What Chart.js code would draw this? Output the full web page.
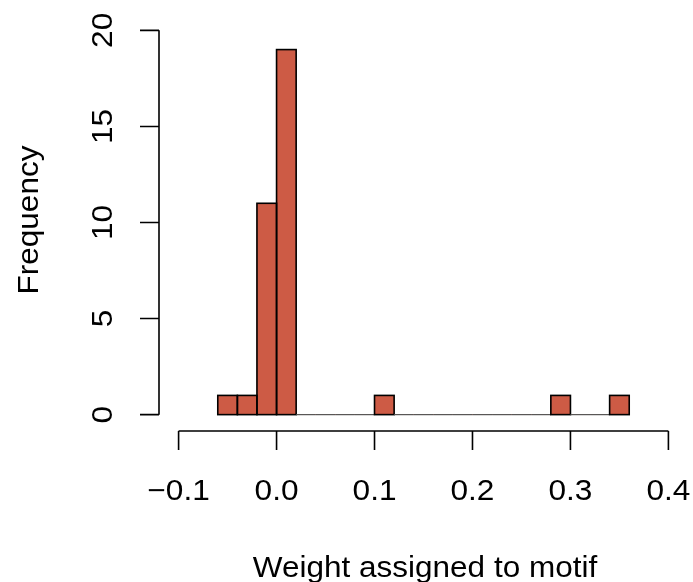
<!DOCTYPE html>
<html>
<head>
<meta charset="utf-8">
<script src="https://cdn.jsdelivr.net/npm/chart.js@4.4.1/dist/chart.umd.min.js"></script>
<style>
  html, body { margin: 0; padding: 0; background: #fff; }
  #wrap { width: 693px; height: 582px; }
</style>
</head>
<body>
<div id="wrap"><canvas id="hist" width="693" height="582"></canvas></div>
<script>
// histogram bins (edges) and counts
const breaks = [-0.06, -0.04, -0.02, 0.00, 0.02, 0.04, 0.06, 0.08, 0.10, 0.12, 0.14,
                0.16, 0.18, 0.20, 0.22, 0.24, 0.26, 0.28, 0.30, 0.32, 0.34, 0.36];
const counts = [1, 1, 11, 19, 0, 0, 0, 0, 1, 0, 0, 0, 0, 0, 0, 0, 0, 1, 0, 0, 1];
const xTicks = [-0.1, 0.0, 0.1, 0.2, 0.3, 0.4];
const xTickLabels = ['\u22120.1', '0.0', '0.1', '0.2', '0.3', '0.4'];
const yTicks = [0, 5, 10, 15, 20];
const xTitle = 'Weight assigned to motif';
const yTitle = 'Frequency';

const FONT = '"Liberation Sans", Arial, Helvetica, sans-serif';

// text helper, stretch is applied along the text direction
function drawText(ctx, text, x, y, rot, size, stretch) {
  ctx.save();
  ctx.translate(x, y);
  ctx.rotate(rot);
  ctx.scale(stretch, 1);
  ctx.font = size + 'px ' + FONT;
  ctx.fillStyle = '#000';
  ctx.textAlign = 'center';
  ctx.textBaseline = 'alphabetic';
  ctx.fillText(text, 0, 0);
  ctx.restore();
}

// outline each bin like R's rect(), zero bins become a flat line
const histOutline = {
  id: 'histOutline',
  afterDatasetsDraw(chart) {
    const ctx = chart.ctx;
    const meta = chart.getDatasetMeta(0);
    ctx.save();
    meta.data.forEach((bar, i) => {
      const left = bar.x - bar.width / 2;
      if (counts[i] === 0) {
        ctx.strokeStyle = '#555';
        ctx.lineWidth = 1.2;
        ctx.beginPath();
        ctx.moveTo(left, bar.base);
        ctx.lineTo(left + bar.width, bar.base);
        ctx.stroke();
      } else {
        ctx.strokeStyle = '#000';
        ctx.lineWidth = 1.6;
        ctx.strokeRect(left, bar.y, bar.width, bar.base - bar.y);
      }
    });
    ctx.restore();
  }
};

// R style detached axes
const rAxes = {
  id: 'rAxes',
  afterDraw(chart) {
    const ctx = chart.ctx;
    const xs = chart.scales.x, ys = chart.scales.y;
    const area = chart.chartArea;
    const tick = 19;
    ctx.save();
    ctx.strokeStyle = '#000';
    ctx.lineWidth = 1.6;

    // y axis
    const ax = area.left;
    ctx.beginPath();
    ctx.moveTo(ax, ys.getPixelForValue(yTicks[0]));
    ctx.lineTo(ax, ys.getPixelForValue(yTicks[yTicks.length - 1]));
    yTicks.forEach(v => {
      const py = ys.getPixelForValue(v);
      ctx.moveTo(ax, py);
      ctx.lineTo(ax - tick, py);
    });
    ctx.stroke();
    yTicks.forEach(v => {
      drawText(ctx, String(v), ax - 47, ys.getPixelForValue(v), -Math.PI / 2, 29, 1.09);
    });

    // x axis
    const ay = area.bottom + 1;
    ctx.beginPath();
    ctx.moveTo(xs.getPixelForValue(xTicks[0]), ay);
    ctx.lineTo(xs.getPixelForValue(xTicks[xTicks.length - 1]), ay);
    xTicks.forEach(v => {
      const px = xs.getPixelForValue(v);
      ctx.moveTo(px, ay);
      ctx.lineTo(px, ay + tick);
    });
    ctx.stroke();
    xTicks.forEach((v, i) => {
      drawText(ctx, xTickLabels[i], xs.getPixelForValue(v), ay + 69, 0, 29, 1.09);
    });

    // axis titles
    drawText(ctx, xTitle, 425, 577, 0, 30, 1.05);
    drawText(ctx, yTitle, 38, 220, -Math.PI / 2, 30, 1.05);
    ctx.restore();
  }
};

const binData = counts.map((c, i) => ({ x: (breaks[i] + breaks[i + 1]) / 2, y: c }));

new Chart(document.getElementById('hist'), {
  type: 'bar',
  data: {
    datasets: [{
      data: binData,
      backgroundColor: '#CD5B45',
      borderWidth: 0,
      barPercentage: 1,
      categoryPercentage: 1
    }]
  },
  options: {
    responsive: false,
    animation: false,
    layout: { padding: { left: 159, right: 5, top: 15, bottom: 152 } },
    plugins: { legend: { display: false }, tooltip: { enabled: false } },
    scales: {
      x: { type: 'linear', min: -0.12, max: 0.42, offset: false, display: false },
      y: { min: -0.8, max: 20.8, display: false }
    }
  },
  plugins: [histOutline, rAxes]
});
</script>
</body>
</html>
